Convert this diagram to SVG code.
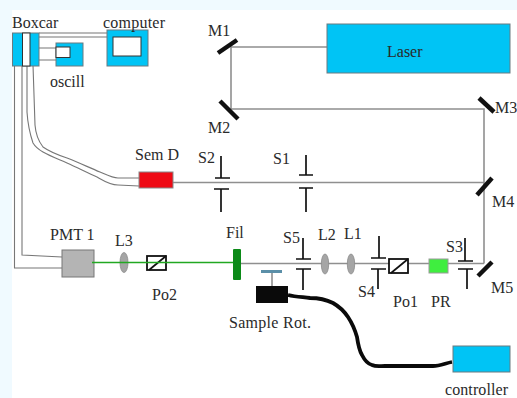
<svg xmlns="http://www.w3.org/2000/svg" width="517" height="398" viewBox="0 0 517 398">
<style>
text{font-family:"Liberation Serif","Times New Roman",serif;font-size:16px;fill:#2a2a2a}
.blue{fill:#00c4f5;stroke:#6a7a80;stroke-width:1}
.beam{fill:none;stroke:#8f8f8f;stroke-width:1.6}
.wire{fill:none;stroke:#777;stroke-width:1.1}
.blk{fill:none;stroke:#111;stroke-width:1.7}
.mir{stroke:#111;stroke-width:4.5;fill:none}
.lens{fill:#a5a5a5;stroke:#8a8a8a;stroke-width:.8}
.pol{fill:#fff;stroke:#111;stroke-width:1.8}
</style>
<rect width="517" height="398" fill="#fff"/>
<path d="M0 0H517V10H12V398H0Z" fill="#f0faff"/>
<g id="connectors">
<path class="beam" d="M327 47H231V109H484V263.500M173 182.500H484M241 263.500H484"/>
<path class="wire" d="M14.500 65V268H62M22 65V255L62 257M33 65L35 125Q36 138 43 147C50 152 58 155 67 158C80 163 90 168 100 172C107 175 112 178 118 178H139M27 65V112Q28 128 33 143Q36 148 43 152C50 156 58 159 67 163C78 168 88 173 97 177C104 181 110 185 118 185L139 186"/>
<path class="wire" d="M39 33H107M39 37H107M39 48H56M39 60H56"/>
<path d="M288 295C296 297 303 297 310 298C320 298 327 300 333 303C340 307 344 311 348 317C352 323 355 330 357 337C358 344 359 350 362 355C365 361 368 364 372 365C376 367 380 366 385 366L433 366C440 366 446 363 452 362" fill="none" stroke="#0a0a0a" stroke-width="3.800"/>
<path class="beam" d="M272 273V286"/>
</g>
<g id="boxcar"><rect class="blue" x="12.500" y="33" width="26.500" height="33"/><rect x="22.500" y="33" width="7.500" height="33" fill="#fff" stroke="#333"/><text x="12" y="28">Boxcar</text></g>
<g id="computer"><rect class="blue" x="107" y="30" width="41" height="36"/><rect x="113" y="37" width="28" height="19" fill="#fff" stroke="#333"/><text x="103" y="28" textLength="62">computer</text></g>
<g id="oscill"><rect class="blue" x="56" y="43" width="27" height="23"/><rect x="56" y="47" width="14" height="10.500" fill="#fff" stroke="#333"/><text x="50" y="87">oscill</text></g>
<g id="laser"><rect class="blue" x="327" y="24" width="183" height="49"/><text x="387" y="57">Laser</text></g>
<g id="m1"><path class="mir" d="M218 53L237 40"/><text x="208" y="36">M1</text></g>
<g id="m2"><path class="mir" d="M220 101L238 119"/><text x="208" y="133">M2</text></g>
<g id="m3"><path class="mir" d="M479 98L494 112"/><text x="495" y="113">M3</text></g>
<g id="m4"><path class="mir" d="M477 195L492 178"/><text x="492" y="207">M4</text></g>
<g id="m5"><path class="mir" d="M478 276L492 262"/><text x="491" y="293">M5</text></g>
<g id="semd"><rect x="139" y="172" width="34" height="16" fill="#ee0a14" stroke="#888"/><text x="135" y="160">Sem D</text></g>
<g id="s2"><path class="blk" d="M221 156V178M215 178H230M214 189H229M221 189V212"/><text x="198" y="163">S2</text></g>
<g id="s1"><path class="blk" d="M306 155V175M299 175H313M299 188H313M306 188V212"/><text x="273" y="164">S1</text></g>
<g id="pmt"><rect x="62" y="250" width="32" height="27" fill="#b4b4b4" stroke="#777"/><text x="50" y="240">PMT 1</text></g>
<g id="l3"><ellipse class="lens" cx="124" cy="262.500" rx="4" ry="10"/><text x="115" y="246">L3</text></g>
<g id="po2"><rect class="pol" x="147" y="256" width="19" height="14"/><path class="blk" d="M149 270L166 256"/><text x="152" y="300">Po2</text></g>
<g id="fil"><rect x="233" y="249" width="8" height="31" rx="1" fill="#0c8a18"/><text x="226" y="238">Fil</text></g>
<g id="s5"><path class="blk" d="M303 238V259M296 259H311M296 269H311M303 269V290"/><text x="283" y="243">S5</text></g>
<g id="l2"><ellipse class="lens" cx="325" cy="264" rx="3.700" ry="10"/><text x="318" y="240">L2</text></g>
<g id="l1"><ellipse class="lens" cx="351" cy="264" rx="3.700" ry="10"/><text x="344" y="239">L1</text></g>
<g id="s4"><path class="blk" d="M379 236V258M371 258H386M371 269H386M378 269V289"/><text x="358" y="297">S4</text></g>
<g id="po1"><rect class="pol" x="389" y="259" width="19" height="14"/><path class="blk" d="M391 273L408 259"/><text x="393" y="307">Po1</text></g>
<g id="pr"><rect x="429" y="259" width="19" height="14" fill="#3fee3f" stroke="#9a9a9a"/><text x="431" y="307">PR</text></g>
<g id="s3"><path class="blk" d="M465 238V261M458 261H473M458 269H473M467 269V289"/><text x="446" y="252">S3</text></g>
<g id="sample"><rect x="261" y="270" width="21" height="3" fill="#5b8fa8"/><rect x="256" y="286" width="32" height="17" fill="#0a0a0a"/><text x="229" y="328" textLength="82">Sample Rot.</text></g>
<g id="controller"><rect class="blue" x="453" y="346" width="57" height="26"/><text x="445" y="395" textLength="63">controller</text></g>
<g id="green-beam"><path d="M92 262.500H233" fill="none" stroke="#22a822" stroke-width="1.600"/></g>
</svg>
